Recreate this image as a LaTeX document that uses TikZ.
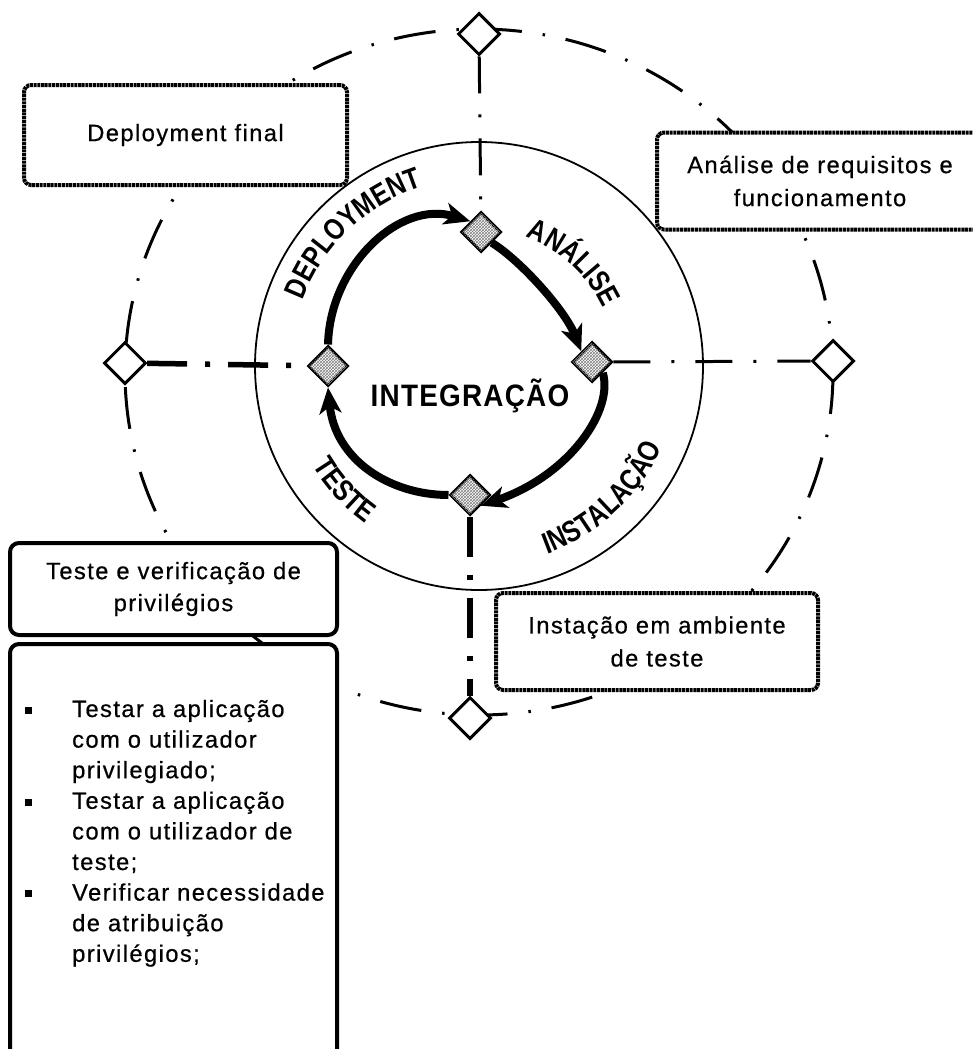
\documentclass[tikz,border=0pt]{standalone}
\usepackage{fontspec}
\setmainfont{Liberation Sans}
\newfontfamily\boxfont[LetterSpace=6,FakeBold=0.6]{Liberation Sans}
\newfontfamily\ringfont[FakeStretch=0.82]{Liberation Sans Bold}
\newfontfamily\corefont[FakeStretch=0.9,LetterSpace=4]{Liberation Sans Bold}
\usetikzlibrary{shapes.geometric,arrows.meta,decorations.text,patterns}

\begin{document}
\begin{tikzpicture}[x=1pt,y=-1pt,
  outerring/.style={line width=3pt, dash pattern=on 42pt off 21pt on 2.5pt off 21pt},
  hubring/.style={line width=1.8pt},
  thinlink/.style={line width=3pt, dash pattern=on 37pt off 21pt on 3pt off 21pt},
  thicklink/.style={line width=5.5pt, dash pattern=on 40pt off 18pt on 5pt off 18pt},
  phase/.style={diamond, draw, line width=3pt, minimum size=42pt, inner sep=0pt, fill=white},
  gate/.style={diamond, draw, line width=3pt, minimum size=40pt, inner sep=0pt, fill=white,
    postaction={pattern=crosshatch, pattern color=gray}},
  flow/.style={line width=8pt, -{Stealth[length=26pt,width=22pt,inset=7pt]}},
  callout/.style={draw, line width=4pt, dash pattern=on 3pt off 0.7pt, rounded corners=7pt,
    fill=white, font=\boxfont\fontsize{23.7}{33}\selectfont, align=center, inner sep=0pt},
  panel/.style={draw, line width=4pt, rounded corners=9pt, fill=white, inner sep=0pt,
    font=\boxfont\fontsize{23.7}{32}\selectfont, align=center},
  listline/.style={anchor=base west, inner sep=0pt, font=\boxfont\fontsize{23.7}{30}\selectfont},
  bullet/.style={fill, rectangle, minimum size=7pt, inner sep=0pt},
  ringlabel/.style={decorate, decoration={text along path, text align=center,
    text={|\ringfont\fontsize{30}{30}\selectfont|#1}}}
]
\useasboundingbox (0,0) rectangle (973,1049);
\clip (0,0) rectangle (973,1049);

% outer cycle and central ring
\draw[outerring] (479,372) ellipse[x radius=354, y radius=343];
\coordinate (hub) at (479,366);
\draw[hubring] (hub) circle[radius=224];

% phase descriptions
\node[callout, minimum width=323pt, minimum height=100pt] (deploybox) at (185.5,135) {Deployment final};
\node[callout, minimum width=326pt, minimum height=97pt] (analysisbox) at (820,181)
  {Análise de requisitos e\\funcionamento};
\node[callout, minimum width=322pt, minimum height=97pt] (installbox) at (657,641.5)
  {Instação em ambiente\\de teste};
\node[panel, minimum width=327pt, minimum height=92pt] (testhead) at (173.5,589)
  {Teste e verificação de\\privilégios};
\node[panel, minimum width=327pt, minimum height=430pt, anchor=north] (testbody) at (173.5,642) {};

% task list
\node[bullet] (b1) at (28,710) {};
\node[bullet] (b2) at (28,802) {};
\node[bullet] (b3) at (28,893) {};
\node[listline] (l1) at (72,717) {Testar a aplicação};
\node[listline] (l2) at (72,747.6) {com o utilizador};
\node[listline] (l3) at (72,778.2) {privilegiado;};
\node[listline] (l4) at (72,808.8) {Testar a aplicação};
\node[listline] (l5) at (72,839.4) {com o utilizador de};
\node[listline] (l6) at (72,870) {teste;};
\node[listline] (l7) at (72,900.6) {Verificar necessidade};
\node[listline] (l8) at (72,931.2) {de atribuição};
\node[listline] (l9) at (72,961.8) {privilégios;};

% milestones
\node[phase] (otop) at (479,34) {};
\node[phase] (oleft) at (125,363) {};
\node[phase] (oright) at (833,361) {};
\node[phase] (obot) at (470,718) {};
\node[gate] (itop) at (481,232) {};
\node[gate] (iright) at (592,362) {};
\node[gate] (ileft) at (328,366) {};
\node[gate] (ibot) at (470,495) {};

% links between outer and inner milestones
\draw[thinlink] (otop) -- (itop);
\draw[thicklink] (oleft) -- (ileft);
\draw[thinlink] (iright) -- (oright);
\draw[thicklink] (ibot) -- (obot);

% integration cycle
\draw[flow] (ileft.north) .. controls (330,265) and (400,200) .. (itop.north west);
\draw[flow] (itop.south east) .. controls (520,260) and (565,310) .. (iright.north west);
\draw[flow] (iright.south east) .. controls (614,410) and (570,475) .. (ibot.south east);
\draw[flow] (ibot.west) .. controls (390,495) and (335,460) .. (ileft.south);

\node[font=\corefont\fontsize{31}{31}\selectfont, inner sep=0pt] (core) at (470,396) {INTEGRAÇÃO};

% stage names around the ring
\path[ringlabel=DEPLOYMENT] (hub) ++(-173.5:188) arc[start angle=-173.5, end angle=-93.5, radius=188];
\path[ringlabel=ANÁLISE] (hub) ++(-87.5:137) arc[start angle=-87.5, end angle=-7.5, radius=137];
\path[ringlabel=TESTE] (hub) ++(-182.5:194) arc[start angle=-182.5, end angle=-262.5, radius=194];
\path[ringlabel=INSTALAÇÃO] (hub) ++(87:200) arc[start angle=87, end angle=7, radius=200];
\end{tikzpicture}
\end{document}
